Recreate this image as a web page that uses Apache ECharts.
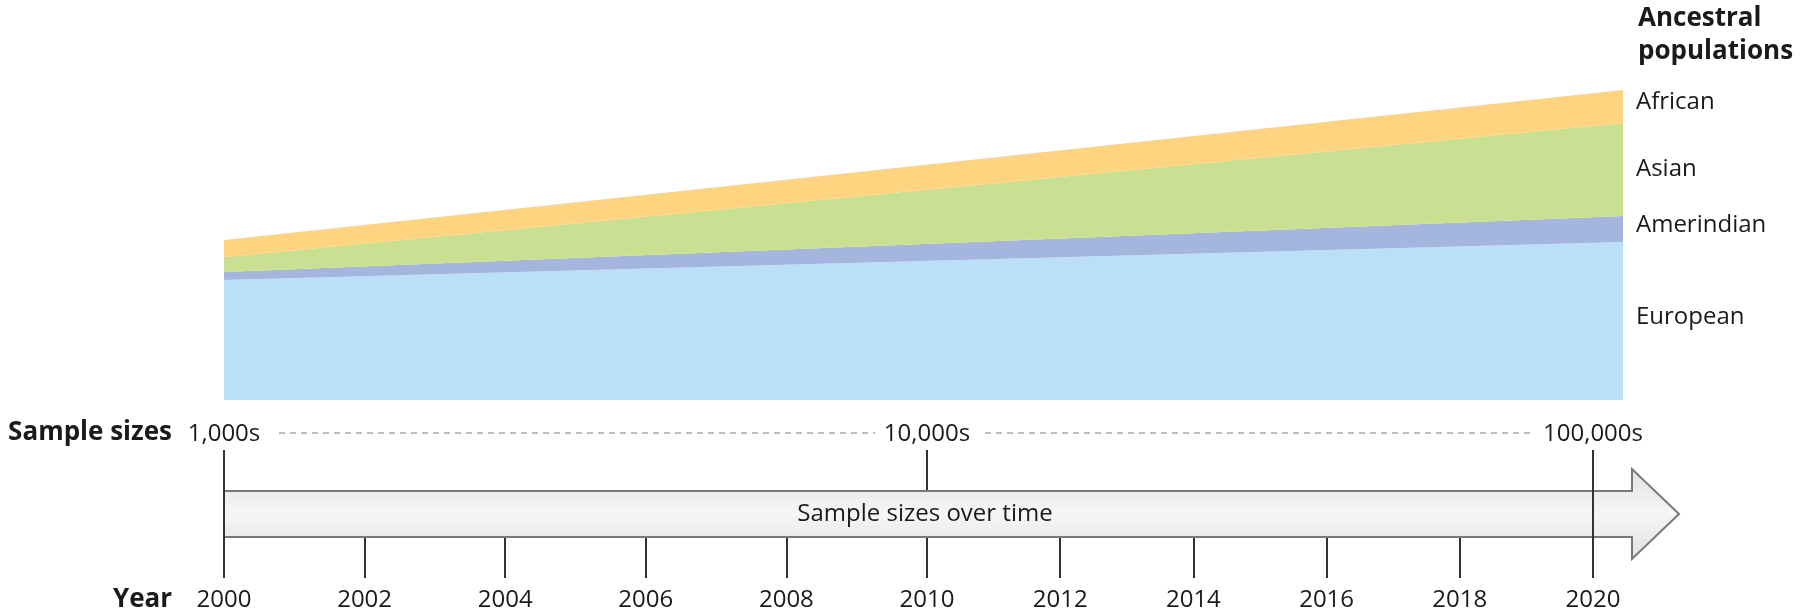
<!DOCTYPE html>
<html>
<head>
<meta charset="utf-8">
<script src="https://cdn.jsdelivr.net/npm/echarts@6/dist/echarts.min.js"></script>
<style>
html,body{margin:0;padding:0;background:#fff;}
#chart{width:1800px;height:613px;}
</style>
</head>
<body>
<div id="chart"></div>
<script>
// ---- data ----
const areaYears = ['2000', '2020'];
const populations = ['European', 'Amerindian', 'Asian', 'African'];
const european = [120, 158];
const amerindian = [8, 26];
const asian = [15, 93];
const african = [17, 33];
const popColors = ['#b9e0f6', '#a4b5de', '#c9e093', '#fed480'];
const yearTicksA = [2000, 2010];
const yearTicksB = [2010, 2020];
const sampleYears = [2000, 2010, 2020];
const sampleLabels = ['1,000s', '10,000s', '100,000s'];
const titleLines = ['Ancestral', 'populations'];

const FONT = 'Open Sans';
const TXT = '#1a1a1a';
const chart = echarts.init(document.getElementById('chart'));
const popData = [european, amerindian, asian, african];

function sampleFmt(v) {
  const i = sampleYears.indexOf(v);
  return i >= 0 ? sampleLabels[i] : '';
}

const yearAxisBase = {
  type: 'value', interval: 2, position: 'bottom',
  axisLine: { show: false },
  axisTick: { show: true, inside: true, length: 41, lineStyle: { color: '#333', width: 2 } },
  splitLine: { show: false },
  axisLabel: { fontFamily: FONT, fontSize: 24, color: TXT, margin: 10, formatter: v => String(v) }
};
const sampleAxisBase = {
  type: 'value', interval: 10, position: 'top',
  axisLine: { show: false }, axisTick: { show: false }, splitLine: { show: false },
  axisLabel: { fontFamily: FONT, fontSize: 24, color: TXT, margin: 4, formatter: sampleFmt }
};

const option = {
  animation: false,
  backgroundColor: '#fff',
  grid: [
    { left: 224, right: 177, top: 60, bottom: 213 },
    { left: 224, right: 873, top: 450, bottom: 35 },
    { left: 927, right: 207, top: 450, bottom: 35 }
  ],
  xAxis: [
    { type: 'category', gridIndex: 0, data: areaYears, boundaryGap: false, show: false },
    Object.assign({}, yearAxisBase, { gridIndex: 1, min: yearTicksA[0], max: yearTicksA[1] }),
    Object.assign({}, yearAxisBase, { gridIndex: 2, min: yearTicksB[0], max: yearTicksB[1],
      axisLabel: Object.assign({}, yearAxisBase.axisLabel, { showMinLabel: false }) }),
    Object.assign({}, sampleAxisBase, { gridIndex: 1, min: yearTicksA[0], max: yearTicksA[1],
      axisLabel: Object.assign({}, sampleAxisBase.axisLabel, { showMaxLabel: false }) }),
    Object.assign({}, sampleAxisBase, { gridIndex: 2, min: yearTicksB[0], max: yearTicksB[1] })
  ],
  yAxis: [
    { type: 'value', gridIndex: 0, min: 0, max: 340, show: false },
    { type: 'value', gridIndex: 1, min: 0, max: 1, show: false },
    { type: 'value', gridIndex: 2, min: 0, max: 1, show: false }
  ],
  series: populations.map((p, i) => ({
    name: p, type: 'line', stack: 'pop', xAxisIndex: 0, yAxisIndex: 0,
    data: popData[i], symbol: 'none', silent: true,
    lineStyle: { width: 0 },
    areaStyle: { color: popColors[i], opacity: 1 }
  }))
};
chart.setOption(option);

// ---- decorations positioned through the axes ----
const px = (axis, v) => chart.convertToPixel({ xAxisIndex: axis }, v);
const x2000 = px(1, 2000), x2010 = px(1, 2010), x2020 = px(2, 2020);
const xEndArea = chart.convertToPixel({ xAxisIndex: 0 }, areaYears[1]);
const gTop = 450, gBot = 578, bodyTop = 491, bodyBot = 537, headTop = 469, headBot = 559, mid = 514;
const bodyEnd = x2020 + 39, tip = x2020 + 86;

const graphics = [];
// arrow
graphics.push({
  type: 'polygon', z: 10,
  shape: { points: [[x2000, bodyTop], [bodyEnd, bodyTop], [bodyEnd, headTop], [tip, mid], [bodyEnd, headBot], [bodyEnd, bodyBot], [x2000, bodyBot]] },
  style: {
    fill: new echarts.graphic.LinearGradient(0, 0, 0, 1, [
      { offset: 0, color: '#e2e2e2' }, { offset: 0.5, color: '#f6f6f6' }, { offset: 1, color: '#e0e0e0' }
    ]),
    stroke: '#787878', lineWidth: 2
  }
});
graphics.push({ type: 'text', z: 15, x: x2010 - 2, y: mid,
  style: { text: 'Sample sizes over time', fill: TXT, font: '24px "' + FONT + '"', align: 'center', verticalAlign: 'middle' } });
// tall ticks
graphics.push({ type: 'line', z: 5, shape: { x1: x2010, y1: gTop, x2: x2010, y2: gBot }, style: { stroke: '#333', lineWidth: 2 } });
graphics.push({ type: 'line', z: 20, shape: { x1: x2000, y1: gTop, x2: x2000, y2: gBot }, style: { stroke: '#333', lineWidth: 2 } });
graphics.push({ type: 'line', z: 20, shape: { x1: x2020, y1: gTop, x2: x2020, y2: gBot }, style: { stroke: '#333', lineWidth: 2 } });
// dashed sample-size guide
const dashY = 433;
[[x2000 + 55, x2010 - 52], [x2010 + 58, x2020 - 60]].forEach(s => {
  graphics.push({ type: 'line', z: 5, shape: { x1: s[0], y1: dashY, x2: s[1], y2: dashY },
    style: { stroke: '#a8a8a8', lineWidth: 1.5, lineDash: [6, 5] } });
});
// row titles
graphics.push({ type: 'text', x: 172, y: dashY, style: { text: 'Sample sizes', fill: TXT, font: 'bold 26px "' + FONT + '"', align: 'right', verticalAlign: 'middle' } });
graphics.push({ type: 'text', x: 172, y: 600, style: { text: 'Year', fill: TXT, font: 'bold 26px "' + FONT + '"', align: 'right', verticalAlign: 'middle' } });
// legend title
titleLines.forEach((t, i) => {
  graphics.push({ type: 'text', x: 1638, y: 19 + i * 33, style: { text: t, fill: TXT, font: 'bold 26px "' + FONT + '"', align: 'left', verticalAlign: 'middle' } });
});
// population labels at band middles
const labelNudge = [-4, -4, 0, -4];
let cum = 0;
populations.forEach((p, i) => {
  const v = popData[i][1];
  const yMid = chart.convertToPixel({ yAxisIndex: 0 }, cum + v / 2);
  cum += v;
  graphics.push({ type: 'text', x: xEndArea + 13, y: yMid + labelNudge[i],
    style: { text: p, fill: TXT, font: '24px "' + FONT + '"', align: 'left', verticalAlign: 'middle' } });
});
chart.setOption({ graphic: graphics });
</script>
</body>
</html>
